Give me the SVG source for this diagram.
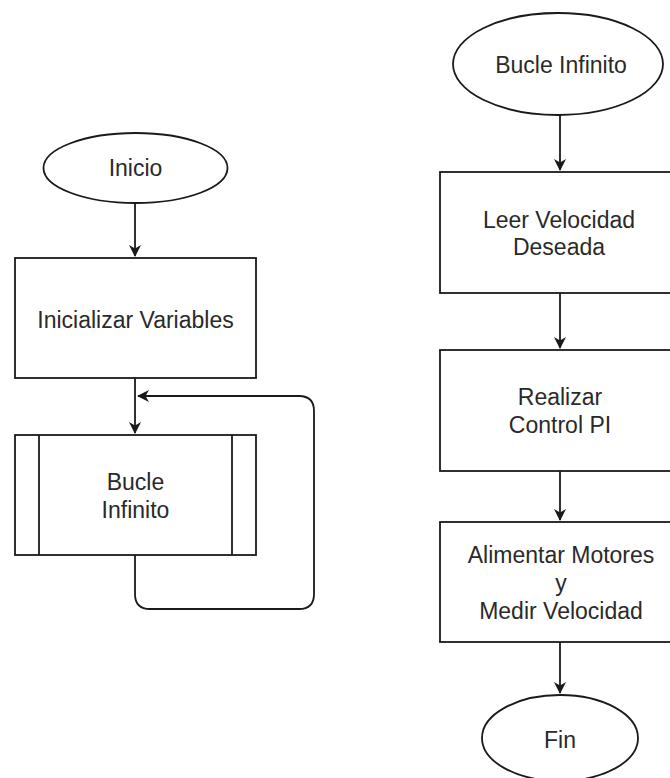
<svg xmlns="http://www.w3.org/2000/svg" width="670" height="778" viewBox="0 0 670 778">
<style>
.s{fill:#fff;stroke:#1a1a1a;stroke-width:1.8}
.t{font-family:"Liberation Sans",Arial,sans-serif;font-size:23px;fill:#2a2a2a;text-anchor:middle}
.c{fill:none;stroke:#1a1a1a;stroke-width:1.8}
</style>
<defs>
<marker id="a" markerWidth="14" markerHeight="14" refX="12" refY="7" orient="auto" markerUnits="userSpaceOnUse">
<path d="M1,1 L13,7 L1,13 L4.5,7 Z" fill="#1a1a1a"/>
</marker>
</defs>
<rect width="670" height="778" fill="#fff"/>
<g id="connectors">
<path class="c" d="M135,203 V256" marker-end="url(#a)"/>
<path class="c" d="M135,378 V433" marker-end="url(#a)"/>
<path class="c" d="M135,555 V594 Q135,609 150,609 H299 Q314,609 314,594 V411 Q314,396 299,396 H138" marker-end="url(#a)"/>
<path class="c" d="M560,115 V170" marker-end="url(#a)"/>
<path class="c" d="M560,293 V348" marker-end="url(#a)"/>
<path class="c" d="M560,471 V520" marker-end="url(#a)"/>
<path class="c" d="M560,642 V693" marker-end="url(#a)"/>
</g>
<g id="inicio">
<ellipse class="s" cx="135.5" cy="168" rx="92" ry="35"/>
<text class="t" x="135.5" y="176">Inicio</text>
</g>
<g id="inicializar">
<rect class="s" x="15" y="258" width="241" height="120"/>
<text class="t" x="135.5" y="328">Inicializar Variables</text>
</g>
<g id="bucle-sub">
<rect class="s" x="15" y="435" width="241" height="120"/>
<line class="c" x1="39" y1="435" x2="39" y2="555"/>
<line class="c" x1="232" y1="435" x2="232" y2="555"/>
<text class="t" x="135.5" y="490">Bucle</text>
<text class="t" x="135.5" y="518">Infinito</text>
</g>
<g id="bucle-start">
<ellipse class="s" cx="558" cy="64" rx="105" ry="51"/>
<text class="t" x="561" y="73">Bucle Infinito</text>
</g>
<g id="leer">
<rect class="s" x="440" y="172" width="240" height="121"/>
<text class="t" x="559" y="228">Leer Velocidad</text>
<text class="t" x="559" y="255">Deseada</text>
</g>
<g id="realizar">
<rect class="s" x="440" y="350" width="240" height="121"/>
<text class="t" x="560" y="405">Realizar</text>
<text class="t" x="560" y="433">Control PI</text>
</g>
<g id="alimentar">
<rect class="s" x="440" y="522" width="240" height="120"/>
<text class="t" x="561" y="563">Alimentar Motores</text>
<text class="t" x="561" y="591">y</text>
<text class="t" x="561" y="619">Medir Velocidad</text>
</g>
<g id="fin">
<ellipse class="s" cx="560" cy="738" rx="78" ry="43"/>
<text class="t" x="560" y="748">Fin</text>
</g>
</svg>
